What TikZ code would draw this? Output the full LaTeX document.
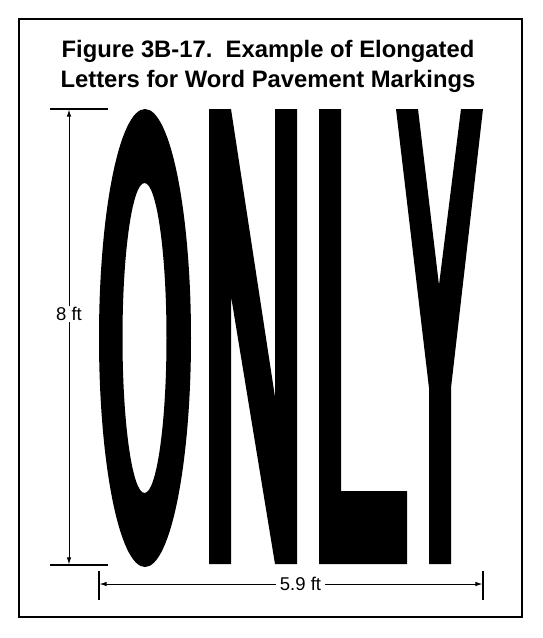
\documentclass[tikz,border=0pt]{standalone}
\usepackage{fontspec}
\setmainfont{Liberation Sans}
\usetikzlibrary{arrows.meta}
\tikzset{
  dimline/.style={line width=0.9pt},
  extline/.style={line width=1.4pt},
  dimarrow/.style={dimline,-{Latex[length=7pt,width=4.5pt]}},
  dimlabel/.style={font=\fontsize{18.5}{20}\selectfont, inner sep=1pt},
  letter/.style={fill=black}
}
\begin{document}
\begin{tikzpicture}[x=1pt,y=-1pt]
\useasboundingbox (0,0) rectangle (542,638);
% frame
\draw[line width=2.4pt] (19,19) rectangle (522,617);
% title
\node[font=\bfseries\fontsize{23.8}{30}\selectfont, align=center, inner sep=0pt] (title) at (268,66)
  {Figure 3B-17.\ \ Example of Elongated\\Letters for Word Pavement Markings};
% O
\fill[letter, even odd rule]
  (145,338) ellipse [x radius=46, y radius=229]
  (144.5,338) ellipse [x radius=22, y radius=155];
% N
\fill[letter] (209,109) -- (231,109) -- (275,397) -- (275,109) -- (297,109) -- (297,564)
  -- (275,564) -- (231,296) -- (231,564) -- (209,564) -- cycle;
% L
\fill[letter] (319,109) -- (341,109) -- (341,491) -- (407,491) -- (407,564) -- (319,564) -- cycle;
% Y
\fill[letter] (396,109) -- (418,109) -- (439,285) -- (461,109) -- (483,109) -- (451,388)
  -- (451,564) -- (429,564) -- (429,388) -- cycle;
% vertical dimension
\coordinate (vtopL) at (50,109);
\coordinate (vtopR) at (108,109);
\coordinate (vbotL) at (50,565);
\coordinate (vbotR) at (108,565);
\coordinate (vtop) at (69,109.6);
\coordinate (vbot) at (69,564.4);
\draw[extline] (vtopL) -- (vtopR);
\draw[extline] (vbotL) -- (vbotR);
\node[dimlabel] (h8) at (69,314) {8 ft};
\draw[dimarrow] (h8.north) -- (vtop);
\draw[dimarrow] (h8.south) -- (vbot);
% horizontal dimension
\coordinate (hlT) at (99,571);
\coordinate (hlB) at (99,600);
\coordinate (hrT) at (483,571);
\coordinate (hrB) at (483,600);
\coordinate (hl) at (99.6,584);
\coordinate (hr) at (482.4,584);
\draw[extline] (hlT) -- (hlB);
\draw[extline] (hrT) -- (hrB);
\node[dimlabel, inner xsep=4pt] (w59) at (300.5,584) {5.9 ft};
\draw[dimarrow] (w59.west) -- (hl);
\draw[dimarrow] (w59.east) -- (hr);
\end{tikzpicture}
\end{document}
